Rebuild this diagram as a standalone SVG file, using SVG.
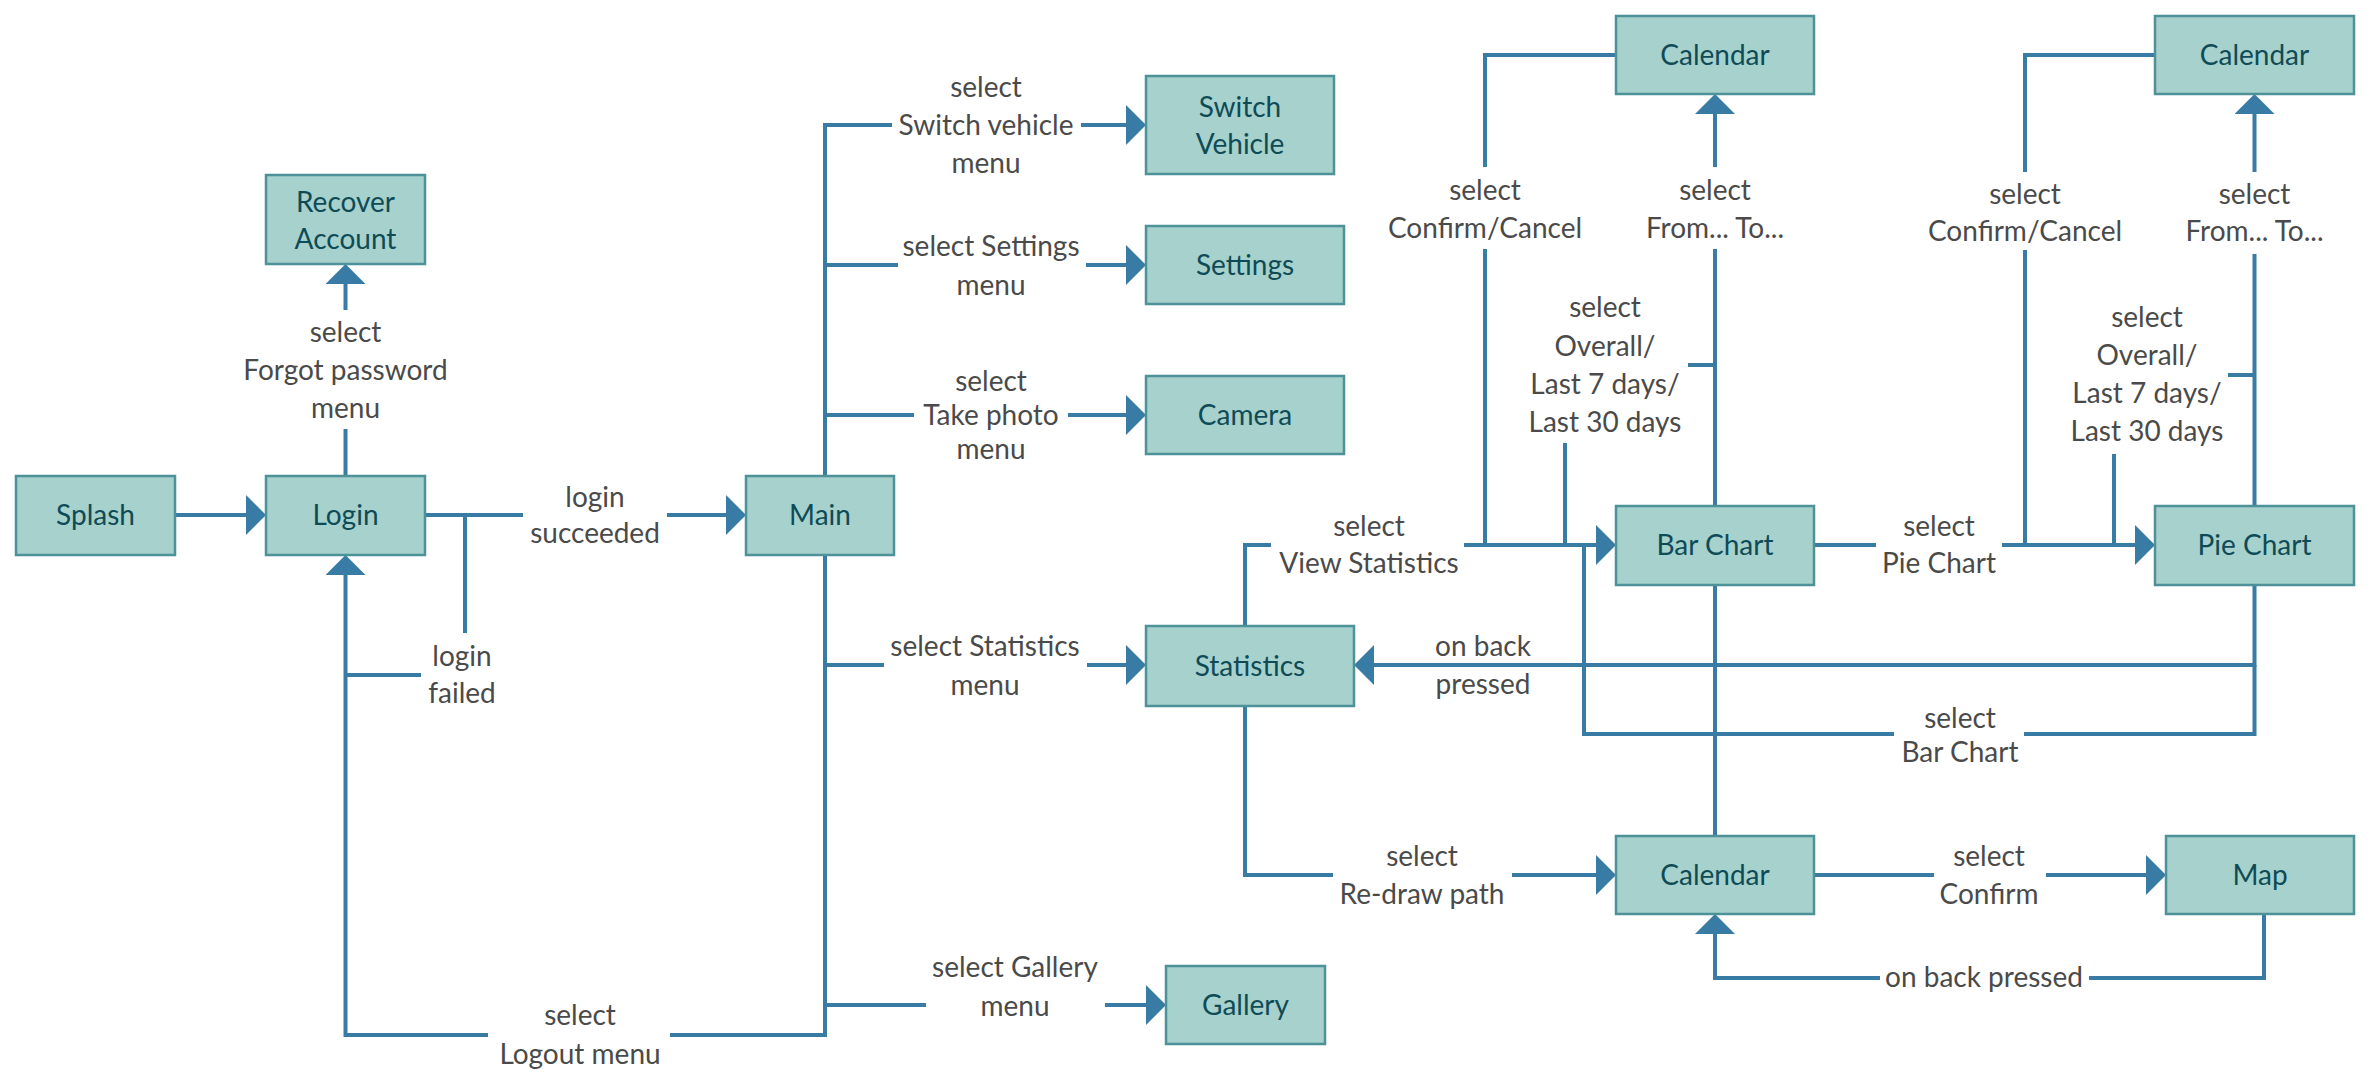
<svg xmlns="http://www.w3.org/2000/svg" width="2370" height="1083" viewBox="0 0 2370 1083">
<defs>
<style>
.box{fill:#a6d1cc;stroke:#4d9199;stroke-width:2.5}
.nt{font-family:Lato,"Open Sans","Liberation Sans",sans-serif;font-size:28px;fill:#0e4b56;text-anchor:middle}
.lb{font-family:Lato,"Open Sans","Liberation Sans",sans-serif;font-size:28px;fill:#4a4a4a;text-anchor:middle}
.c{fill:none;stroke:#387ca6;stroke-width:4}
.a{marker-end:url(#arr)}
</style>
<marker id="arr" markerUnits="userSpaceOnUse" markerWidth="20" markerHeight="40" viewBox="0 0 20 40" refX="0" refY="20" orient="auto">
<path d="M0,0 L20,20 L0,40 z" fill="#387ca6"/>
</marker>
</defs>
<rect width="2370" height="1083" fill="#ffffff"/>

<g id="connectors">
<path class="c a" d="M175,515 H246"/>
<path class="c" d="M345.5,476 V429"/>
<path class="c a" d="M345.5,310 V284"/>
<path class="c" d="M425,515 H523"/>
<path class="c a" d="M667,515 H726"/>
<path class="c" d="M465,515 V633"/>
<path class="c" d="M421,675 H345.5"/>
<path class="c" d="M825,555 V1035 H670"/>
<path class="c a" d="M488,1035 H345.5 V575"/>
<path class="c" d="M825,476 V125 H892"/>
<path class="c a" d="M1081,125 H1126"/>
<path class="c" d="M825,265 H898"/>
<path class="c a" d="M1086,265 H1126"/>
<path class="c" d="M825,415 H914"/>
<path class="c a" d="M1068,415 H1126"/>
<path class="c" d="M825,665 H884"/>
<path class="c a" d="M1087,665 H1126"/>
<path class="c" d="M825,1005 H926"/>
<path class="c a" d="M1105,1005 H1146"/>
<path class="c" d="M1245,626 V545 H1271"/>
<path class="c a" d="M1464,545 H1596"/>
<path class="c" d="M1715,506 V249"/>
<path class="c a" d="M1715,167 V114"/>
<path class="c" d="M1616,55 H1485 V167"/>
<path class="c" d="M1485,249 V545"/>
<path class="c" d="M1715,365 H1688"/>
<path class="c" d="M1565,443 V545"/>
<path class="c" d="M1814,545 H1876"/>
<path class="c a" d="M2002,545 H2135"/>
<path class="c" d="M2254.5,506 V254"/>
<path class="c a" d="M2254.5,172 V114"/>
<path class="c" d="M2155,55 H2025 V172"/>
<path class="c" d="M2025,250 V545"/>
<path class="c" d="M2254.5,375 H2228"/>
<path class="c" d="M2114,454 V545"/>
<path class="c a" d="M2254.5,585 V665 H1374"/>
<path class="c" d="M2254.5,665 V734 H2024"/>
<path class="c" d="M1894,734 H1584 V545"/>
<path class="c" d="M1715,585 V836"/>
<path class="c" d="M1245,706 V875 H1333"/>
<path class="c a" d="M1512,875 H1596"/>
<path class="c" d="M1814,875 H1934"/>
<path class="c a" d="M2046,875 H2146"/>
<path class="c" d="M2264,915 V978 H2089"/>
<path class="c a" d="M1880,978 H1715 V934"/>
</g>

<g id="labels">
<text class="lb" x="345.5" y="342">select</text>
<text class="lb" x="345.5" y="380">Forgot password</text>
<text class="lb" x="345.5" y="418">menu</text>
<text class="lb" x="595" y="507">login</text>
<text class="lb" x="595" y="543">succeeded</text>
<text class="lb" x="462" y="666">login</text>
<text class="lb" x="462" y="703">failed</text>
<text class="lb" x="580" y="1025">select</text>
<text class="lb" x="580" y="1064">Logout menu</text>
<text class="lb" x="986" y="97">select</text>
<text class="lb" x="986" y="135">Switch vehicle</text>
<text class="lb" x="986" y="173">menu</text>
<text class="lb" x="991" y="256">select Settings</text>
<text class="lb" x="991" y="295">menu</text>
<text class="lb" x="991" y="391">select</text>
<text class="lb" x="991" y="425">Take photo</text>
<text class="lb" x="991" y="459">menu</text>
<text class="lb" x="985" y="656">select Statistics</text>
<text class="lb" x="985" y="695">menu</text>
<text class="lb" x="1015" y="977">select Gallery</text>
<text class="lb" x="1015" y="1016">menu</text>
<text class="lb" x="1369" y="536">select</text>
<text class="lb" x="1369" y="573">View Statistics</text>
<text class="lb" x="1715" y="200">select</text>
<text class="lb" x="1715" y="238">From... To...</text>
<text class="lb" x="1485" y="200">select</text>
<text class="lb" x="1485" y="238">Confirm/Cancel</text>
<text class="lb" x="1605" y="317">select</text>
<text class="lb" x="1605" y="356">Overall/</text>
<text class="lb" x="1605" y="394">Last 7 days/</text>
<text class="lb" x="1605" y="432">Last 30 days</text>
<text class="lb" x="1939" y="536">select</text>
<text class="lb" x="1939" y="573">Pie Chart</text>
<text class="lb" x="2254.5" y="204">select</text>
<text class="lb" x="2254.5" y="241">From... To...</text>
<text class="lb" x="2025" y="204">select</text>
<text class="lb" x="2025" y="241">Confirm/Cancel</text>
<text class="lb" x="2147" y="327">select</text>
<text class="lb" x="2147" y="365">Overall/</text>
<text class="lb" x="2147" y="403">Last 7 days/</text>
<text class="lb" x="2147" y="441">Last 30 days</text>
<text class="lb" x="1483" y="656">on back</text>
<text class="lb" x="1483" y="694">pressed</text>
<text class="lb" x="1960" y="728">select</text>
<text class="lb" x="1960" y="762">Bar Chart</text>
<text class="lb" x="1422" y="866">select</text>
<text class="lb" x="1422" y="904">Re-draw path</text>
<text class="lb" x="1989" y="866">select</text>
<text class="lb" x="1989" y="904">Confirm</text>
<text class="lb" x="1984" y="987">on back pressed</text>
</g>

<g id="splash"><rect class="box" x="16" y="476" width="159" height="79"/><text class="nt" x="95.5" y="525">Splash</text></g>
<g id="login"><rect class="box" x="266" y="476" width="159" height="79"/><text class="nt" x="345.5" y="525">Login</text></g>
<g id="recover-account"><rect class="box" x="266" y="175" width="159" height="89"/><text class="nt" x="345.5" y="212">Recover</text><text class="nt" x="345.5" y="249">Account</text></g>
<g id="main"><rect class="box" x="746" y="476" width="148" height="79"/><text class="nt" x="820" y="525">Main</text></g>
<g id="switch-vehicle"><rect class="box" x="1146" y="76" width="188" height="98"/><text class="nt" x="1240" y="117">Switch</text><text class="nt" x="1240" y="154">Vehicle</text></g>
<g id="settings"><rect class="box" x="1146" y="226" width="198" height="78"/><text class="nt" x="1245" y="275">Settings</text></g>
<g id="camera"><rect class="box" x="1146" y="376" width="198" height="78"/><text class="nt" x="1245" y="425">Camera</text></g>
<g id="statistics"><rect class="box" x="1146" y="626" width="208" height="80"/><text class="nt" x="1250" y="676">Statistics</text></g>
<g id="gallery"><rect class="box" x="1166" y="966" width="159" height="78"/><text class="nt" x="1245.5" y="1015">Gallery</text></g>
<g id="calendar-bar"><rect class="box" x="1616" y="16" width="198" height="78"/><text class="nt" x="1715" y="65">Calendar</text></g>
<g id="bar-chart"><rect class="box" x="1616" y="506" width="198" height="79"/><text class="nt" x="1715" y="555">Bar Chart</text></g>
<g id="calendar-path"><rect class="box" x="1616" y="836" width="198" height="78"/><text class="nt" x="1715" y="885">Calendar</text></g>
<g id="calendar-pie"><rect class="box" x="2155" y="16" width="199" height="78"/><text class="nt" x="2254.5" y="65">Calendar</text></g>
<g id="pie-chart"><rect class="box" x="2155" y="506" width="199" height="79"/><text class="nt" x="2254.5" y="555">Pie Chart</text></g>
<g id="map"><rect class="box" x="2166" y="836" width="188" height="78"/><text class="nt" x="2260" y="885">Map</text></g>
</svg>
